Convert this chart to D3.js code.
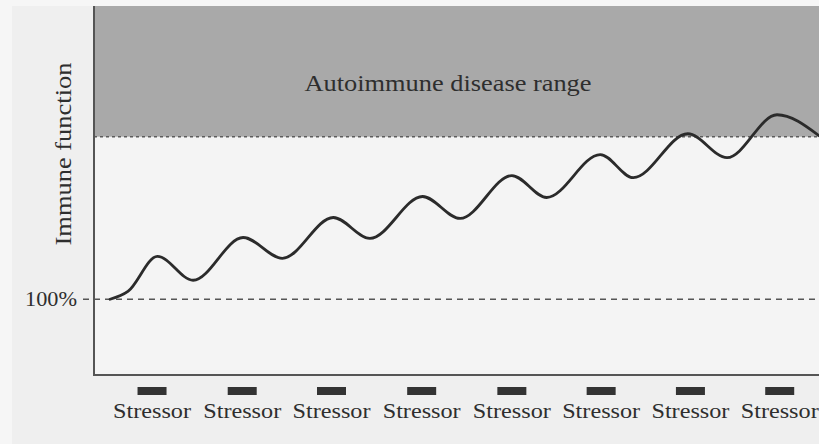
<!DOCTYPE html>
<html>
<head>
<meta charset="utf-8">
<script src="https://cdn.jsdelivr.net/npm/d3@7"></script>
<style>
html,body{margin:0;padding:0;background:#efefef;}
svg{display:block;}
text{font-family:"Liberation Serif","DejaVu Serif",serif;fill:#2e2e2e;}
</style>
</head>
<body>
<svg id="chart" width="819" height="444"></svg>
<script>
// ---- data ----
const curveTime  = [0, 0.20, 0.53, 0.93, 1.49, 1.93, 2.50, 2.91, 3.50, 3.92, 4.50, 4.89, 5.49, 5.86, 6.47, 6.91, 7.47, 7.94];
const curveValue = [100, 104.8, 126.4, 111.7, 138.0, 125.2, 150.3, 137.4, 163.2, 149.7, 176.1, 162.6, 189.0, 174.8, 201.8, 187.1, 213.5, 200.6];
const stressorTimes = [0.47, 1.48, 2.48, 3.49, 4.50, 5.50, 6.50, 7.50];
const stressorLabel = "Stressor";
const baselineValue = 100;
const baselineLabel = "100%";
const autoimmuneThreshold = 200;
const autoimmuneLabel = "Autoimmune disease range";
const yAxisLabel = "Immune function";

// ---- layout ----
const svg = d3.select("#chart");
const W = 819, H = 444;
const plot = {left: 94, right: 819, top: 6, bottom: 375};

const x = d3.scaleLinear().domain([-0.18, 7.94]).range([plot.left, plot.right]);
const y = d3.scaleLinear().domain([53.4, 280.4]).range([plot.bottom, plot.top]);

// backgrounds
svg.append("rect").attr("x",0).attr("y",0).attr("width",W).attr("height",H).attr("fill","#efefef");
svg.append("rect").attr("x",0).attr("y",0).attr("width",12).attr("height",H).attr("fill","#f6f6f6");
svg.append("rect").attr("x",0).attr("y",0).attr("width",W).attr("height",plot.top).attr("fill","#f6f6f6");
svg.append("rect").attr("x",plot.left).attr("y",plot.top)
  .attr("width",plot.right-plot.left).attr("height",plot.bottom-plot.top).attr("fill","#f4f4f4");

// autoimmune range band
svg.append("rect")
  .attr("x",plot.left).attr("y",y(y.domain()[1]))
  .attr("width",plot.right-plot.left)
  .attr("height",y(autoimmuneThreshold)-y(y.domain()[1]))
  .attr("fill","#a9a9a9");

// threshold dashed line
svg.append("line")
  .attr("x1",plot.left).attr("x2",plot.right)
  .attr("y1",y(autoimmuneThreshold)).attr("y2",y(autoimmuneThreshold))
  .attr("stroke","#5c5c5c").attr("stroke-width",1.5).attr("stroke-dasharray","3,3");

// baseline dashed line
svg.append("line")
  .attr("x1",83).attr("x2",plot.right)
  .attr("y1",y(baselineValue)).attr("y2",y(baselineValue))
  .attr("stroke","#555").attr("stroke-width",1.3).attr("stroke-dasharray","6,5");

// axes lines
svg.append("line").attr("x1",plot.left).attr("x2",plot.left)
  .attr("y1",plot.top).attr("y2",plot.bottom+1)
  .attr("stroke","#555").attr("stroke-width",2);
svg.append("line").attr("x1",plot.left).attr("x2",plot.right)
  .attr("y1",plot.bottom).attr("y2",plot.bottom)
  .attr("stroke","#555").attr("stroke-width",2);

// curve
const line = d3.line()
  .x((d,i)=>x(curveTime[i]))
  .y((d,i)=>y(curveValue[i]))
  .curve(d3.curveMonotoneX);
svg.append("path")
  .attr("d", line(curveTime))
  .attr("fill","none").attr("stroke","#2b2b2b").attr("stroke-width",2.8)
  .attr("stroke-linecap","round");

// stressor markers
const sg = svg.append("g");
sg.selectAll("rect").data(stressorTimes).join("rect")
  .attr("x",d=>x(d)-14.5).attr("y",387).attr("width",29).attr("height",8)
  .attr("fill","#333");
sg.selectAll("text").data(stressorTimes).join("text")
  .attr("x",d=>x(d)).attr("y",418)
  .attr("text-anchor","middle").attr("font-size",22)
  .attr("textLength",78).attr("lengthAdjust","spacingAndGlyphs")
  .text(stressorLabel);

// labels
svg.append("text").attr("x",77).attr("y",y(baselineValue)+7)
  .attr("text-anchor","end").attr("font-size",22)
  .attr("textLength",52).attr("lengthAdjust","spacingAndGlyphs")
  .text(baselineLabel);

svg.append("text").attr("x",448).attr("y",91)
  .attr("text-anchor","middle").attr("font-size",24)
  .attr("textLength",287).attr("lengthAdjust","spacingAndGlyphs")
  .text(autoimmuneLabel);

svg.append("text")
  .attr("transform","translate(71,154) rotate(-90)")
  .attr("text-anchor","middle").attr("font-size",24)
  .attr("textLength",183).attr("lengthAdjust","spacingAndGlyphs")
  .text(yAxisLabel);
</script>
</body>
</html>
